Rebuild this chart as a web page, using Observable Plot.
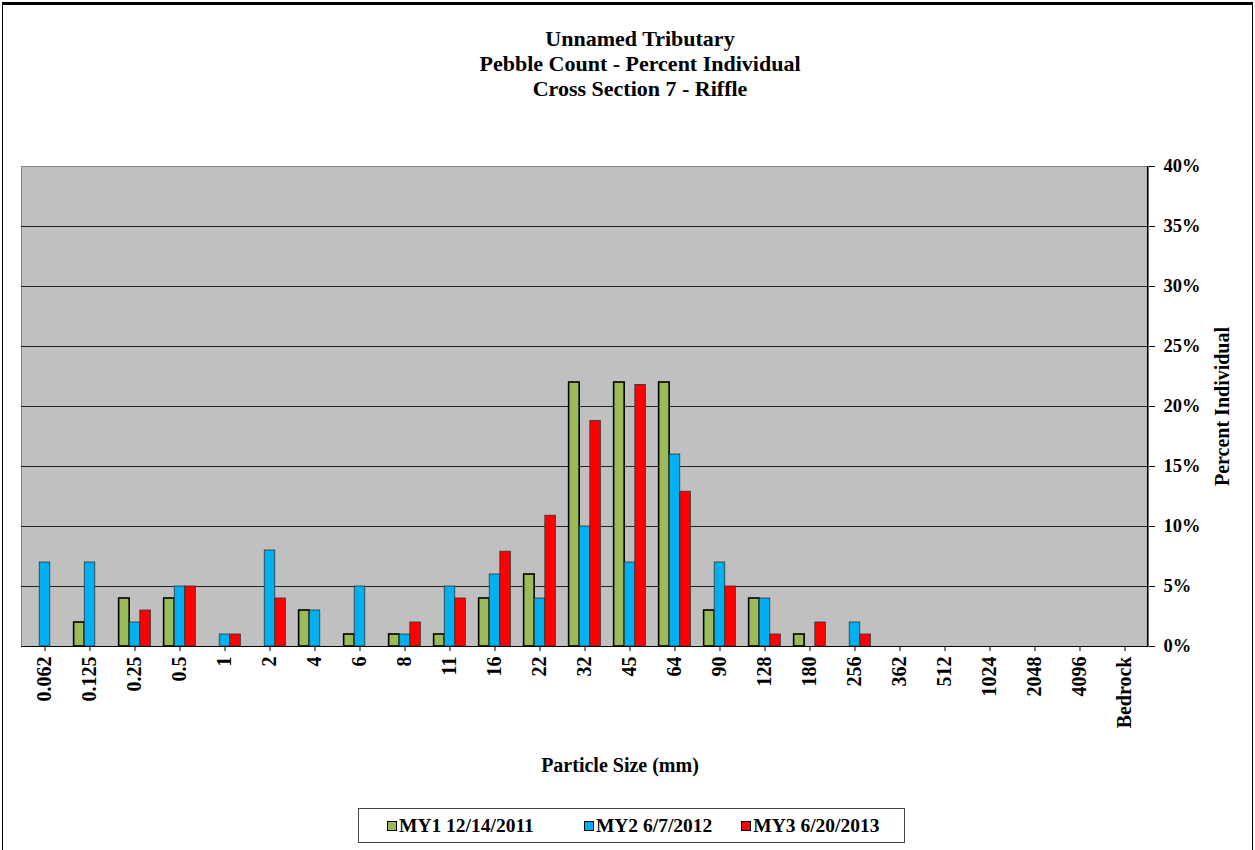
<!DOCTYPE html>
<html><head><meta charset="utf-8">
<script src="https://cdn.jsdelivr.net/npm/d3@7"></script>
<script src="https://cdn.jsdelivr.net/npm/@observablehq/plot@0.6"></script>
<style>
body{margin:0;background:#fff;font-family:"Liberation Serif","Times New Roman",serif;color:#000;}
#frame{position:absolute;left:2px;top:2px;width:1251px;height:860px;box-sizing:border-box;border-top:3px solid #000;border-left:1.5px solid #000;border-right:1.5px solid #000;}
#title{position:absolute;top:26px;left:0;width:1280px;text-align:center;font-weight:bold;font-size:22px;line-height:25px;}
#chart{position:absolute;top:130px;left:0;}
#xlabel{position:absolute;top:754px;left:0;width:1240px;text-align:center;font-weight:bold;font-size:20px;}
#legend{position:absolute;left:358px;top:808px;width:547px;height:35px;border:1px solid #444;box-sizing:border-box;display:flex;justify-content:flex-start;align-items:center;padding-left:28px;font-weight:bold;font-size:19.5px;}
#legend .item{display:flex;align-items:center;gap:2px;}
#legend .sw{width:8px;height:8px;border:1px solid #000;display:inline-block;}
</style></head>
<body>
<div id="frame"></div>
<div id="title">Unnamed Tributary<br>Pebble Count - Percent Individual<br>Cross Section 7 - Riffle</div>
<div id="chart"></div>
<div id="xlabel">Particle Size (mm)</div>
<div id="legend"></div>
<script>
const categories = ["0.062","0.125","0.25","0.5","1","2","4","6","8","11","16","22","32","45","64","90","128","180","256","362","512","1024","2048","4096","Bedrock"];
const seriesNames = ["MY1 12/14/2011","MY2 6/7/2012","MY3 6/20/2013"];
const seriesColors = ["#9BBB59","#00B0F0","#FF0000"];
const my1 = [0,2,4,4,0,0,3,1,1,1,4,6,22,22,22,3,4,1,0,0,0,0,0,0,0];
const my2 = [7,7,2,5,1,8,3,5,1,5,6,4,10,7,16,7,4,0,2,0,0,0,0,0,0];
const my3 = [0,0,3,5,1,4,0,0,2,4,7.9,10.9,18.8,21.8,12.9,5,1,2,1,0,0,0,0,0,0];
const yTicks = [0,5,10,15,20,25,30,35,40];

const allSeries = [my1, my2, my3];
const rows = [];
allSeries.forEach((vals, s) => vals.forEach((v, i) => rows.push({cat: categories[i], series: seriesNames[s], value: v})));

const barW = 10.6;
const band = 1127 / categories.length;
const inset = (band - barW) / 2;

const barMarks = seriesNames.map((name, s) =>
  Plot.barY(rows.filter(d => d.series === name && d.value > 0), {
    x: "cat", y: "value", fill: "series",
    stroke: s === 0 ? "#000" : "#333", strokeWidth: s === 0 ? 1.6 : 0.8,
    insetLeft: inset, insetRight: inset, dx: (s - 1) * barW
  })
);

const chart = Plot.plot({
  width: 1255, height: 660,
  marginTop: 36, marginBottom: 144, marginLeft: 21, marginRight: 107,
  style: {background: "transparent", fontFamily: "'Liberation Serif','Times New Roman',serif", fontSize: "18px", fontWeight: "bold", color: "#000", overflow: "visible"},
  x: {domain: categories, padding: 0, label: null, axis: null},
  y: {domain: [0, 40], label: null, axis: null},
  color: {domain: seriesNames, range: seriesColors},
  marks: [
    Plot.frame({fill: "#C0C0C0", stroke: "#808080"}),
    Plot.gridY(yTicks.filter(t => t > 0 && t < 40), {stroke: "#222", strokeOpacity: 1, strokeWidth: 1}),
    ...barMarks,
    Plot.ruleY([0], {stroke: "#000", strokeWidth: 1.2}),
    Plot.ruleX(["Bedrock"], {dx: band / 2, stroke: "#000", strokeWidth: 1.2}),
    Plot.axisY({anchor: "right", ticks: yTicks, tickFormat: d => d + "%", tickSize: 6, tickPadding: 9, label: null, fontSize: 18.5}),
    Plot.axisX({anchor: "bottom", tickRotate: -90, tickSize: 5, tickPadding: 5, label: null, fontSize: 20}),
    Plot.text(["Percent Individual"], {frameAnchor: "right", dx: 74, rotate: -90, textAnchor: "middle", fontSize: 20, fontWeight: "bold"})
  ]
});
document.getElementById("chart").appendChild(chart);

const leg = document.getElementById("legend");
const gaps = [50, 29, 0];
seriesNames.forEach((n, i) => {
  const it = document.createElement("div");
  it.className = "item";
  it.style.marginRight = gaps[i] + "px";
  it.innerHTML = `<span class="sw" style="background:${seriesColors[i]}"></span><span>${n}</span>`;
  leg.appendChild(it);
});
</script>
</body></html>
